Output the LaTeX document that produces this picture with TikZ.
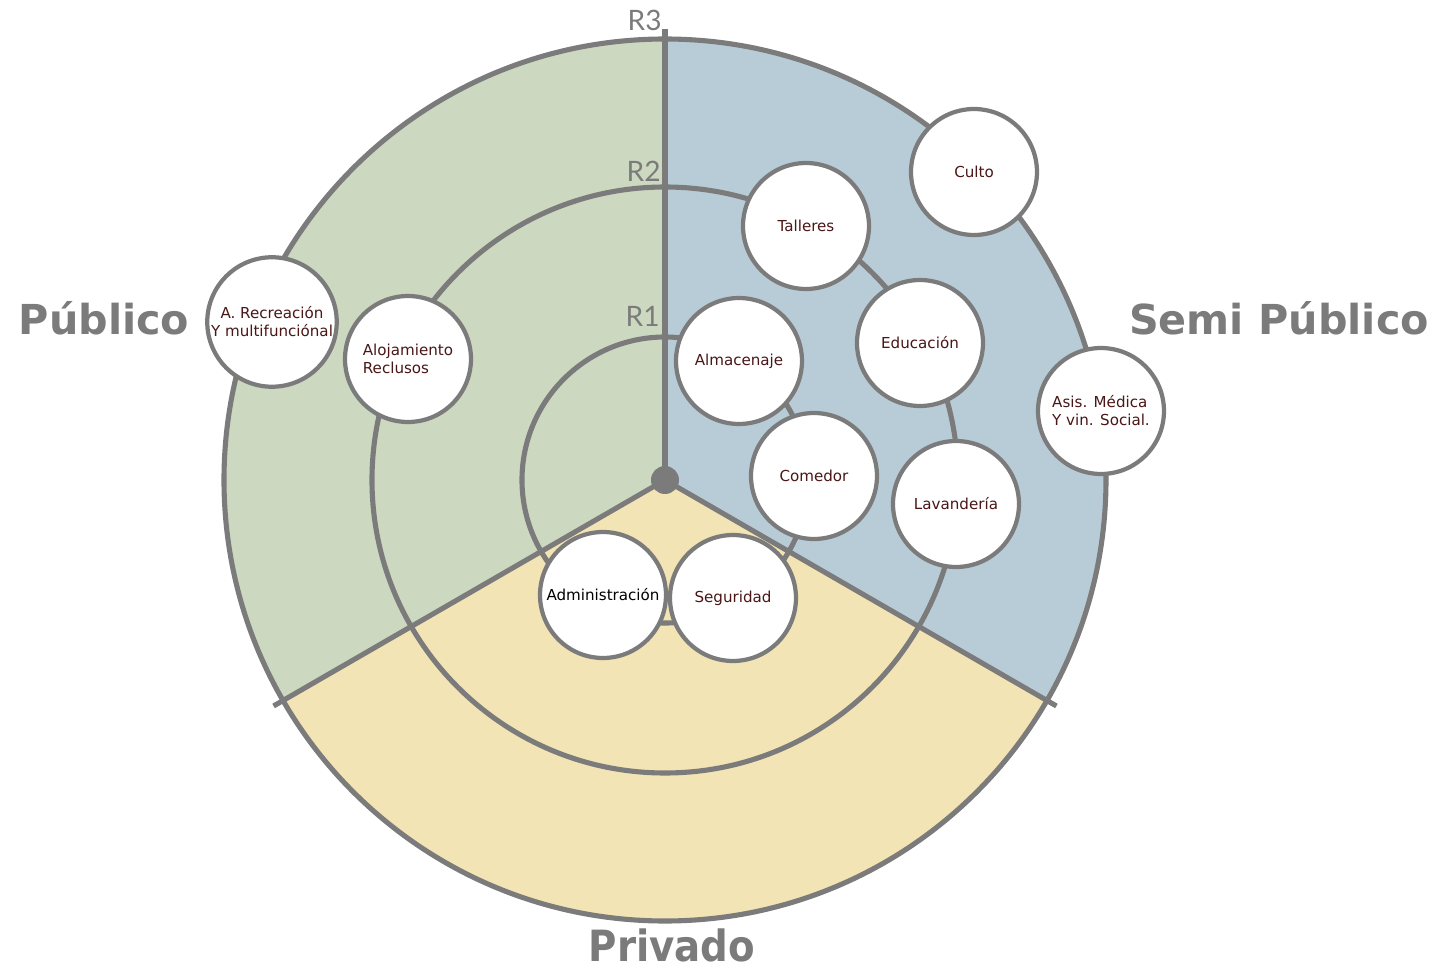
\documentclass[tikz,border=0pt]{standalone}
\usepackage{fontspec}
\setmainfont{DejaVu Sans}
\newfontfamily\condfont{DejaVu Sans Condensed}
\newfontfamily\ringfont{Lato}
\usepackage{xcolor}
\usepackage{tikz}
\usetikzlibrary{positioning}

\definecolor{zonePub}{RGB}{204,216,192}
\definecolor{zoneSemi}{RGB}{184,204,215}
\definecolor{zonePriv}{RGB}{242,228,180}
\definecolor{lineGray}{RGB}{123,123,123}
\definecolor{txtMaroon}{RGB}{74,22,22}

\begin{document}
\begin{tikzpicture}[x=0.02cm,y=0.02cm,line join=round,
  ring/.style={lineGray,line width=2.9pt},
  area/.style={circle,draw=lineGray,line width=2.4pt,fill=white,minimum size=2.52cm,
    inner sep=1pt,text=txtMaroon,font=\fontsize{8.6}{10.2}\selectfont},
  zone/.style={lineGray,font=\fontsize{23.5}{26}\selectfont\bfseries},
  rlabel/.style={lineGray,anchor=base east,inner sep=0pt,font=\ringfont\fontsize{16}{18}\selectfont}]
  \useasboundingbox (-665,-494) rectangle (783,480);
  \coordinate (ctr) at (0,0);
  \def\ra{143}
  \def\rb{293}
  \def\rc{441}

  % ---------- the three zones ----------
  \fill[zonePub]  (ctr) -- (90:\rc)  arc (90:210:\rc)  -- cycle;
  \fill[zoneSemi] (ctr) -- (-30:\rc) arc (-30:90:\rc)  -- cycle;
  \fill[zonePriv] (ctr) -- (210:\rc) arc (210:330:\rc) -- cycle;

  % ---------- rings R1, R2, R3 ----------
  \draw[ring] (ctr) circle (\ra);
  \draw[ring] (ctr) circle (\rb);
  \draw[ring] (ctr) circle (\rc);
  \node[rlabel] (r1) at (-5,153) {R1};
  \node[rlabel] (r2) at (-4,298) {R2};
  \node[rlabel] (r3) at (-3,449) {R3};

  % ---------- zone borders ----------
  \coordinate (eTop) at (90:451);
  \coordinate (eLeft) at (210:452);
  \coordinate (eRight) at (330:452);
  \draw[ring] (ctr) -- (eTop);
  \draw[ring] (ctr) -- (eLeft);
  \draw[ring] (ctr) -- (eRight);
  \fill[lineGray] (ctr) circle (14);

  % ---------- areas ----------
  \node[area] (culto) at (309,308) {Culto};
  \node[area] (talleres) at (141,254) {Talleres};
  \node[area] (educacion) at (255,137) {Educación};
  \node[area] (almacen) at (74,119) {Almacenaje};
  \node[area] (comedor) at (149,4) {Comedor};
  \node[area] (lavanderia) at (291,-24) {Lavandería};
  \node[area,align=left] (medica) at (436,69) {Asis. Médica\\Y vin. Social.};
  \node[area,align=center] (recreacion) at (-393,158) {A. Recreación\\Y multifunciónal};
  \node[area,align=left] (alojamiento) at (-257,121) {Alojamiento\\Reclusos};
  \node[area,text=black] (admin) at (-62,-115) {Administración};
  \node[area] (seguridad) at (68,-118) {Seguridad};

  % ---------- zone names ----------
  \node[zone] (publico) at (-561,162) {Público};
  \node[zone] (semi) at (614,162) {Semi Público};
  \node[zone,font=\condfont\fontsize{24.5}{28}\selectfont\bfseries] (privado) at (7,-465) {Privado};
\end{tikzpicture}
\end{document}
